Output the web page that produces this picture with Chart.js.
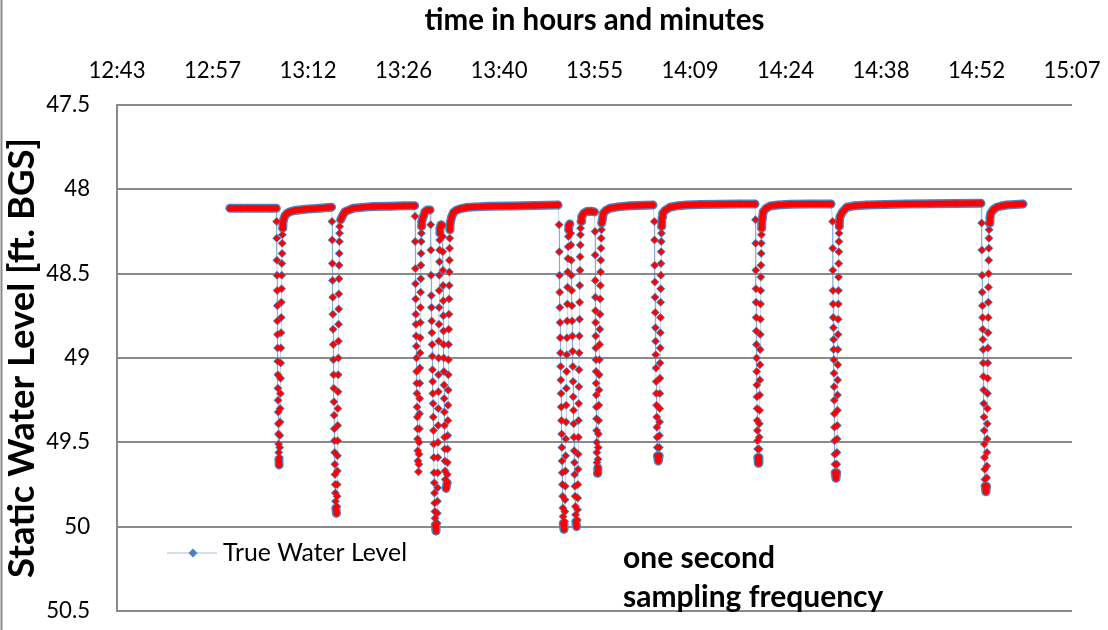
<!DOCTYPE html>
<html>
<head>
<meta charset="utf-8">
<script src="https://cdn.jsdelivr.net/npm/chart.js@4.4.1/dist/chart.umd.min.js"></script>
<style>
  html, body { margin: 0; padding: 0; background: #fff; }
  canvas { display: block; }
</style>
</head>
<body>
<canvas id="chart" width="1108" height="630"></canvas>
<script>
// x values are clock minutes after midnight (0.53 day = 763.2 min = 12:43)
const xTickValues = [763.2, 777.6, 792.0, 806.4, 820.8, 835.2, 849.6, 864.0, 878.4, 892.8, 907.2];
const xTickLabels = ["12:43", "12:57", "13:12", "13:26", "13:40", "13:55", "14:09", "14:24", "14:38", "14:52", "15:07"];
const yTickValues = [47.5, 48, 48.5, 49, 49.5, 50, 50.5];
const yTickLabels = ["47.5", "48", "48.5", "49", "49.5", "50", "50.5"];
const xTitle = "time in hours and minutes";
const yTitle = "Static Water Level [ft. BGS]";
const seriesName = "True Water Level";
const noteLines = ["one second", "sampling frequency"];

// [minute, level ft BGS], in time order
const trueWaterLevel = [
  [780.24,48.112],[781.80,48.112],[783.40,48.112],[785.00,48.112],[786.40,48.112],[787.22,48.112],
  // cycle 1
  [787.27,48.19],[787.29,48.29],[787.31,48.42],[787.33,48.51],[787.35,48.60],[787.37,48.69],[787.38,48.78],[787.40,48.86],[787.42,48.94],[787.44,49.02],[787.46,49.10],[787.47,49.18],[787.49,49.25],[787.51,49.32],[787.53,49.39],[787.55,49.45],[787.57,49.51],[787.59,49.56],[787.61,49.60],[787.65,49.634],
  [787.70,49.59],[787.73,49.53],[787.75,49.46],[787.78,49.38],[787.80,49.30],[787.83,49.21],[787.86,49.12],[787.88,49.03],[787.91,48.94],[787.93,48.85],[787.96,48.76],[787.98,48.67],[788.01,48.59],[788.04,48.51],[788.06,48.44],[788.09,48.38],[788.12,48.32],[788.14,48.27],[788.17,48.23],[788.21,48.20],
  [788.35,48.175],[788.55,48.155],[788.85,48.142],[789.29,48.133],[790.04,48.125],[791.55,48.118],[793.81,48.112],[795.00,48.108],[795.55,48.106],
  // cycle 2
  [795.62,48.19],[795.65,48.30],[795.67,48.44],[795.70,48.54],[795.73,48.64],[795.75,48.74],[795.78,48.83],[795.81,48.92],[795.83,49.01],[795.86,49.10],[795.89,49.18],[795.91,49.26],[795.94,49.34],[795.97,49.42],[795.99,49.49],[796.02,49.56],[796.05,49.63],[796.07,49.69],[796.10,49.75],[796.13,49.80],[796.16,49.85],[796.20,49.89],[796.30,49.921],
  [796.36,49.88],[796.38,49.82],[796.40,49.75],[796.42,49.67],[796.44,49.58],[796.46,49.49],[796.48,49.40],[796.50,49.30],[796.52,49.20],[796.55,49.10],[796.57,49.00],[796.59,48.90],[796.61,48.80],[796.63,48.71],[796.65,48.62],[796.67,48.53],[796.69,48.45],[796.71,48.38],[796.73,48.31],[796.76,48.26],[796.78,48.22],
  [796.93,48.180],[797.28,48.152],[797.58,48.132],[798.33,48.120],[798.83,48.112],[800.14,48.107],[801.85,48.102],[804.42,48.100],[806.50,48.098],[808.08,48.097],
  // cycle 3
  [808.14,48.16],[808.16,48.31],[808.19,48.47],[808.21,48.56],[808.24,48.65],[808.26,48.74],[808.28,48.80],[808.31,48.87],[808.33,48.93],[808.36,49.00],[808.38,49.08],[808.40,49.15],[808.43,49.21],[808.45,49.29],[808.48,49.35],[808.50,49.42],[808.52,49.48],[808.55,49.55],[808.58,49.61],[808.65,49.674],
  [808.72,49.63],[808.74,49.57],[808.76,49.50],[808.79,49.42],[808.81,49.33],[808.83,49.24],[808.85,49.15],[808.87,49.06],[808.90,48.97],[808.92,48.88],[808.94,48.79],[808.96,48.70],[808.98,48.61],[809.01,48.53],[809.03,48.45],[809.05,48.38],[809.07,48.31],[809.10,48.26],[809.12,48.22],[809.15,48.19],
  [809.39,48.162],[809.64,48.132],[809.99,48.122],[810.40,48.122],
  // cycle 4
  [810.50,48.21],[810.53,48.36],[810.56,48.51],[810.59,48.63],[810.62,48.70],[810.65,48.78],[810.68,48.85],[810.71,48.92],[810.74,48.99],[810.77,49.07],[810.80,49.14],[810.83,49.21],[810.86,49.27],[810.89,49.35],[810.92,49.43],[810.95,49.51],[810.98,49.59],[811.01,49.68],[811.04,49.74],[811.07,49.80],[811.10,49.86],[811.13,49.91],[811.16,49.95],[811.20,49.99],[811.30,50.026],
  [811.48,49.98],[811.50,49.92],[811.52,49.85],[811.54,49.77],[811.56,49.68],[811.58,49.59],[811.60,49.50],[811.62,49.40],[811.64,49.30],[811.66,49.20],[811.68,49.10],[811.70,49.00],[811.72,48.90],[811.74,48.80],[811.76,48.70],[811.78,48.60],[811.80,48.51],[811.82,48.43],[811.84,48.36],[811.86,48.30],[811.88,48.26],[811.90,48.23],
  [812.07,48.210],[812.22,48.215],
  // cycle 5
  [812.31,48.28],[812.33,48.37],[812.35,48.48],[812.37,48.57],[812.39,48.66],[812.41,48.75],[812.43,48.84],[812.45,48.92],[812.47,49.00],[812.50,49.08],[812.52,49.16],[812.54,49.24],[812.56,49.32],[812.58,49.40],[812.60,49.47],[812.62,49.54],[812.64,49.61],[812.67,49.67],[812.70,49.72],[812.81,49.773],
  [812.98,49.74],[813.00,49.69],[813.02,49.62],[813.04,49.54],[813.06,49.46],[813.09,49.37],[813.11,49.28],[813.13,49.19],[813.16,49.10],[813.18,49.01],[813.20,48.92],[813.22,48.83],[813.25,48.74],[813.27,48.65],[813.29,48.57],[813.31,48.49],[813.33,48.42],[813.35,48.35],[813.37,48.29],[813.39,48.24],[813.41,48.21],
  [813.53,48.185],[813.67,48.162],[813.94,48.137],[814.32,48.125],[814.92,48.116],[815.83,48.108],[817.19,48.104],[819.49,48.100],[822.56,48.099],[826.23,48.096],[829.70,48.093],
  // cycle 6
  [829.86,48.21],[829.89,48.37],[829.92,48.51],[829.95,48.61],[829.98,48.70],[830.01,48.79],[830.04,48.88],[830.07,48.97],[830.10,49.05],[830.13,49.13],[830.16,49.21],[830.19,49.29],[830.22,49.37],[830.25,49.45],[830.28,49.53],[830.31,49.61],[830.34,49.68],[830.37,49.75],[830.40,49.82],[830.43,49.89],[830.46,49.94],[830.49,49.98],[830.60,50.016],
  [830.70,49.97],[830.73,49.91],[830.76,49.84],[830.79,49.76],[830.82,49.67],[830.85,49.58],[830.88,49.48],[830.91,49.38],[830.93,49.28],[830.96,49.18],[830.99,49.08],[831.02,48.98],[831.05,48.88],[831.08,48.78],[831.11,48.68],[831.14,48.58],[831.17,48.49],[831.20,48.41],[831.23,48.34],[831.26,48.28],[831.29,48.24],[831.32,48.215],
  [831.48,48.205],
  // cycle 7
  [831.62,48.26],[831.65,48.33],[831.69,48.42],[831.72,48.51],[831.76,48.60],[831.79,48.69],[831.83,48.78],[831.86,48.87],[831.90,48.96],[831.93,49.05],[831.97,49.14],[832.00,49.23],[832.04,49.31],[832.07,49.39],[832.11,49.47],[832.14,49.55],[832.18,49.62],[832.21,49.69],[832.25,49.76],[832.28,49.82],[832.32,49.88],[832.35,49.93],[832.39,49.97],[832.50,50.00],
  [832.62,49.96],[832.64,49.90],[832.67,49.83],[832.69,49.75],[832.72,49.66],[832.74,49.57],[832.77,49.47],[832.79,49.37],[832.82,49.27],[832.84,49.17],[832.86,49.07],[832.89,48.97],[832.91,48.87],[832.94,48.77],[832.96,48.67],[832.98,48.57],[833.01,48.48],[833.03,48.40],[833.06,48.33],[833.08,48.27],[833.10,48.23],
  [833.17,48.19],[833.27,48.162],[833.62,48.140],[834.02,48.132],[834.67,48.130],[835.20,48.134],
  // cycle 8
  [835.28,48.25],[835.30,48.39],[835.31,48.54],[835.33,48.64],[835.35,48.72],[835.37,48.79],[835.38,48.87],[835.40,48.94],[835.42,49.01],[835.44,49.08],[835.45,49.15],[835.47,49.22],[835.49,49.29],[835.51,49.36],[835.52,49.43],[835.54,49.50],[835.56,49.56],[835.58,49.62],[835.63,49.684],
  [835.70,49.65],[835.73,49.60],[835.76,49.53],[835.79,49.45],[835.82,49.37],[835.85,49.28],[835.88,49.19],[835.91,49.10],[835.94,49.01],[835.97,48.92],[836.00,48.83],[836.03,48.74],[836.06,48.65],[836.09,48.57],[836.12,48.49],[836.15,48.42],[836.18,48.35],[836.21,48.29],[836.25,48.24],[836.29,48.20],
  [836.42,48.170],[836.53,48.142],[836.93,48.125],[837.54,48.112],[838.74,48.104],[840.55,48.097],[842.81,48.094],[844.02,48.093],
  // cycle 9
  [844.22,48.19],[844.25,48.30],[844.28,48.45],[844.30,48.55],[844.33,48.64],[844.36,48.73],[844.39,48.82],[844.42,48.90],[844.44,48.98],[844.47,49.06],[844.50,49.14],[844.53,49.21],[844.56,49.28],[844.59,49.35],[844.61,49.41],[844.64,49.47],[844.67,49.53],[844.70,49.58],[844.82,49.611],
  [844.95,49.58],[844.97,49.53],[844.99,49.46],[845.01,49.38],[845.03,49.30],[845.05,49.21],[845.07,49.12],[845.09,49.03],[845.11,48.94],[845.13,48.85],[845.15,48.76],[845.17,48.67],[845.19,48.59],[845.21,48.51],[845.23,48.44],[845.25,48.37],[845.27,48.31],[845.29,48.26],[845.31,48.22],[845.34,48.19],
  [845.41,48.165],[845.48,48.142],[845.83,48.125],[846.58,48.106],[847.79,48.097],[849.10,48.093],[851.11,48.090],[854.12,48.088],[857.14,48.087],[859.40,48.087],
  // cycle 10
  [859.48,48.18],[859.50,48.32],[859.52,48.48],[859.54,48.59],[859.56,48.67],[859.58,48.76],[859.60,48.84],[859.62,48.92],[859.64,49.00],[859.66,49.08],[859.68,49.16],[859.70,49.23],[859.72,49.30],[859.74,49.37],[859.76,49.43],[859.78,49.49],[859.80,49.54],[859.83,49.59],[859.90,49.624],
  [860.00,49.59],[860.02,49.54],[860.04,49.47],[860.06,49.39],[860.09,49.31],[860.11,49.22],[860.13,49.13],[860.15,49.04],[860.17,48.95],[860.20,48.86],[860.22,48.77],[860.24,48.68],[860.26,48.60],[860.28,48.52],[860.31,48.45],[860.33,48.38],[860.35,48.32],[860.37,48.27],[860.40,48.23],[860.42,48.20],
  [860.54,48.165],[860.65,48.132],[861.06,48.113],[861.66,48.099],[862.87,48.093],[864.68,48.089],[867.69,48.087],[870.86,48.087],
  // cycle 11
  [871.10,48.19],[871.12,48.35],[871.14,48.48],[871.16,48.60],[871.18,48.68],[871.20,48.76],[871.23,48.82],[871.25,48.89],[871.27,48.95],[871.29,49.01],[871.31,49.09],[871.33,49.17],[871.35,49.25],[871.37,49.33],[871.39,49.41],[871.41,49.49],[871.44,49.57],[871.46,49.63],[871.49,49.68],[871.61,49.713],
  [871.72,49.68],[871.74,49.63],[871.76,49.56],[871.78,49.48],[871.80,49.40],[871.82,49.31],[871.84,49.22],[871.86,49.13],[871.88,49.04],[871.90,48.95],[871.92,48.86],[871.94,48.77],[871.96,48.68],[871.98,48.60],[872.00,48.52],[872.02,48.44],[872.04,48.37],[872.06,48.31],[872.08,48.26],[872.10,48.22],[872.12,48.19],
  [872.22,48.162],[872.59,48.134],[873.23,48.106],[874.48,48.097],[876.24,48.093],[879.00,48.090],[882.28,48.087],[885.79,48.086],[889.56,48.084],[893.48,48.083],
  // cycle 12
  [893.58,48.20],[893.61,48.36],[893.64,48.51],[893.66,48.61],[893.69,48.69],[893.72,48.76],[893.74,48.83],[893.77,48.89],[893.80,48.95],[893.82,49.03],[893.85,49.11],[893.88,49.19],[893.90,49.27],[893.93,49.35],[893.96,49.43],[893.98,49.51],[894.01,49.59],[894.04,49.66],[894.07,49.72],[894.10,49.76],[894.22,49.793],
  [894.32,49.76],[894.34,49.71],[894.36,49.64],[894.38,49.56],[894.40,49.48],[894.42,49.39],[894.44,49.30],[894.46,49.21],[894.48,49.12],[894.50,49.03],[894.52,48.94],[894.54,48.85],[894.56,48.76],[894.58,48.67],[894.60,48.58],[894.62,48.50],[894.64,48.42],[894.66,48.35],[894.68,48.29],[894.70,48.24],[894.72,48.20],
  [894.83,48.168],[894.94,48.142],[895.36,48.119],[895.85,48.106],[896.49,48.099],[897.35,48.093],[898.61,48.090],[899.81,48.087]
];

const BLUE = "#4F81BD";
const THIN_BLUE = "rgba(79,129,189,0.35)";
const RED = "#FF0000";
const GRID = "#8a8a8a";
const FAMILY = "Lato, 'Open Sans', sans-serif";

// font size that makes a text span a given width
const measureCtx = document.createElement("canvas").getContext("2d");
function fitFont(text, weight, width) {
  measureCtx.font = `${weight} 100px ${FAMILY}`;
  return Math.round(1000 * width / measureCtx.measureText(text).width) / 10;
}

const tickSize = fitFont("12:43", "normal", 57);
const xTitleSize = fitFont(xTitle, "bold", 340);
const yTitleSize = fitFont(yTitle, "bold", 440);
const legendSize = fitFont(seriesName, "normal", 184);
const noteSize = fitFont(noteLines[1], "bold", 260);

// steep steps stay as separate markers, shallow runs merge into a band
function isFlat(c) {
  const dx = Math.abs(c.p1.x - c.p0.x);
  const dy = Math.abs(c.p1.y - c.p0.y);
  return dy < 6.5 || dx > dy;
}

function diamond(ctx, x, y, r, color) {
  ctx.beginPath();
  ctx.moveTo(x, y - r);
  ctx.lineTo(x + r, y);
  ctx.lineTo(x, y + r);
  ctx.lineTo(x - r, y);
  ctx.closePath();
  ctx.fillStyle = color;
  ctx.fill();
}

const decorations = {
  id: "decorations",
  beforeDraw(chart) {
    const ctx = chart.ctx;
    ctx.save();
    ctx.strokeStyle = GRID;
    ctx.lineWidth = 2;
    ctx.beginPath();
    ctx.moveTo(1.5, 0);
    ctx.lineTo(1.5, chart.height);
    ctx.stroke();
    ctx.restore();
  },
  afterDatasetsDraw(chart) {
    const { ctx, chartArea: a } = chart;
    ctx.save();
    // legend
    const ly = a.bottom - 58;
    ctx.strokeStyle = THIN_BLUE;
    ctx.lineWidth = 1.5;
    ctx.beginPath();
    ctx.moveTo(a.left + 50, ly);
    ctx.lineTo(a.left + 100, ly);
    ctx.stroke();
    diamond(ctx, a.left + 76, ly, 4.5, BLUE);
    ctx.fillStyle = "#000";
    ctx.textBaseline = "alphabetic";
    ctx.textAlign = "left";
    ctx.font = `normal ${legendSize}px ${FAMILY}`;
    ctx.fillText(seriesName, a.left + 106, a.bottom - 50);
    // note
    ctx.font = `bold ${noteSize}px ${FAMILY}`;
    ctx.fillText(noteLines[0], a.left + 506, a.bottom - 43);
    ctx.fillText(noteLines[1], a.left + 506, a.bottom - 4);
    ctx.restore();
  }
};

const points = trueWaterLevel.map(([x, y]) => ({ x, y }));

new Chart(document.getElementById("chart"), {
  type: "scatter",
  data: {
    datasets: [
      {
        label: seriesName,
        data: points,
        order: 2,
        showLine: true,
        borderColor: THIN_BLUE,
        borderWidth: 1,
        borderCapStyle: "round",
        borderJoinStyle: "round",
        pointStyle: "rectRot",
        pointRadius: 4.5,
        pointBorderWidth: 0,
        pointBackgroundColor: BLUE,
        segment: {
          borderWidth: c => isFlat(c) ? 9 : 1,
          borderColor: c => isFlat(c) ? BLUE : THIN_BLUE
        }
      },
      {
        label: "overlay",
        data: points,
        order: 1,
        showLine: true,
        borderColor: "rgba(0,0,0,0)",
        borderWidth: 1,
        borderCapStyle: "round",
        borderJoinStyle: "round",
        pointStyle: "rectRot",
        pointRadius: 3.4,
        pointBorderWidth: 0,
        pointBackgroundColor: RED,
        segment: {
          borderWidth: c => isFlat(c) ? 6 : 1,
          borderColor: c => isFlat(c) ? RED : "rgba(0,0,0,0)"
        }
      }
    ]
  },
  options: {
    responsive: false,
    animation: false,
    events: [],
    layout: { autoPadding: false, padding: { left: 0, top: 0, right: 36, bottom: 19 } },
    plugins: { legend: { display: false }, tooltip: { enabled: false } },
    scales: {
      x: {
        type: "linear",
        position: "top",
        min: 763.2,
        max: 907.2,
        afterBuildTicks: s => { s.ticks = xTickValues.map(v => ({ value: v })); },
        afterFit: s => { s.height = 105; s.paddingLeft = 0; s.paddingRight = 0; },
        grid: { display: false, drawTicks: false },
        border: { display: false },
        ticks: {
          autoSkip: false,
          maxRotation: 0,
          color: "#000",
          font: { family: FAMILY, size: tickSize, lineHeight: 1.2 },
          padding: 105 - 71 - tickSize * 0.6,
          callback: (v, i) => xTickLabels[i]
        },
        title: {
          display: true,
          text: xTitle,
          color: "#000",
          font: { family: FAMILY, size: xTitleSize, weight: "bold", lineHeight: 1.2 },
          padding: { top: Math.max(0, 20 - xTitleSize * 0.6), bottom: 0 }
        }
      },
      y: {
        type: "linear",
        reverse: true,
        min: 47.5,
        max: 50.5,
        afterBuildTicks: s => { s.ticks = yTickValues.map(v => ({ value: v })); },
        afterFit: s => { s.width = 117; s.paddingTop = 0; s.paddingBottom = 0; },
        grid: { color: GRID, lineWidth: 2, drawTicks: false },
        border: { display: true, color: GRID, width: 2 },
        ticks: {
          color: "#000",
          font: { family: FAMILY, size: tickSize, lineHeight: 1.2 },
          padding: 27,
          callback: (v, i) => yTickLabels[i]
        },
        title: {
          display: true,
          text: yTitle,
          color: "#000",
          font: { family: FAMILY, size: yTitleSize, weight: "bold", lineHeight: 1.2 },
          padding: { top: Math.max(0, 22 - yTitleSize * 0.6), bottom: 0 }
        }
      }
    }
  },
  plugins: [decorations]
});
</script>
</body>
</html>
